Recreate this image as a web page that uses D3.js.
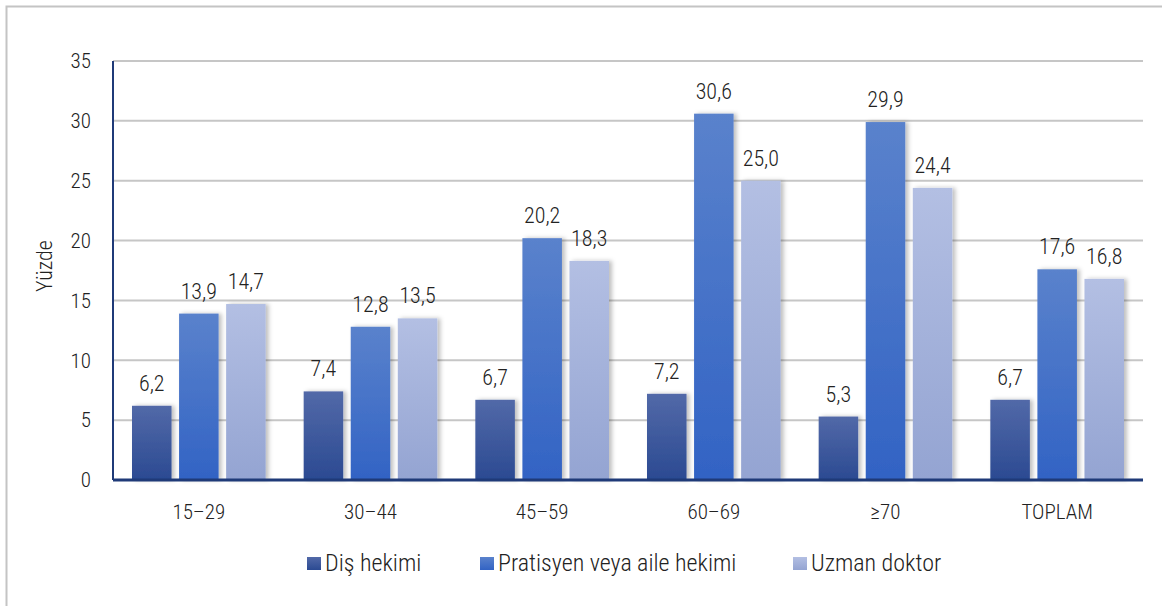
<!DOCTYPE html>
<html>
<head>
<meta charset="utf-8">
<script src="https://cdn.jsdelivr.net/npm/d3@7"></script>
<style>
  body { margin: 0; background: #fff; }
  svg text { font-family: "Roboto Condensed", "DejaVu Sans", sans-serif; font-stretch: condensed; font-weight: 300; fill: #222; }
</style>
</head>
<body>
<svg id="chart" width="1162" height="606"></svg>
<script>
var categories = ["15-29", "30-44", "45-59", "60-69", "\u226570", "TOPLAM"];
var seriesNames = ["Diş hekimi", "Pratisyen veya aile hekimi", "Uzman doktor"];
var disHekimi = [6.2, 7.4, 6.7, 7.2, 5.3, 6.7];
var pratisyen = [13.9, 12.8, 20.2, 30.6, 29.9, 17.6];
var uzman = [14.7, 13.5, 18.3, 25.0, 24.4, 16.8];
var yTicks = [0, 5, 10, 15, 20, 25, 30, 35];

var series = [disHekimi, pratisyen, uzman];
var gradColors = [["#5269a8", "#2b4a92"], ["#5a82cc", "#3263c4"], ["#b3bfe3", "#94a4d2"]];

var svg = d3.select("#chart");
var margin = { left: 113, right: 19, top: 61, bottom: 126 };
var width = 1162 - margin.left - margin.right;
var height = 606 - margin.top - margin.bottom;

// outer frame
svg.append("rect")
    .attr("x", 6.5).attr("y", 6.5)
    .attr("width", 1162).attr("height", 620)
    .attr("fill", "none").attr("stroke", "#c4c4c4").attr("stroke-width", 2);

var defs = svg.append("defs");
gradColors.forEach(function (c, i) {
    var g = defs.append("linearGradient").attr("id", "grad" + i)
        .attr("x1", 0).attr("y1", 0).attr("x2", 0).attr("y2", 1);
    g.append("stop").attr("offset", "0%").attr("stop-color", c[0]);
    g.append("stop").attr("offset", "100%").attr("stop-color", c[1]);
});
var f = defs.append("filter").attr("id", "shadow")
    .attr("x", "-20%").attr("y", "-10%").attr("width", "150%").attr("height", "120%");
f.append("feDropShadow").attr("dx", 3).attr("dy", 0).attr("stdDeviation", 2)
    .attr("flood-color", "#000").attr("flood-opacity", 0.25);

var g = svg.append("g").attr("transform", "translate(" + margin.left + "," + margin.top + ")");

var x0 = d3.scaleBand().domain(categories).range([0, width]).paddingInner(0).paddingOuter(0);
var x1 = d3.scaleBand().domain([0, 1, 2]).range([19, x0.bandwidth() - 19]).paddingInner(0.16);
var y = d3.scaleLinear().domain([0, 35]).range([height, 0]);

// gridlines
g.selectAll(".grid").data(yTicks.slice(1)).enter().append("line")
    .attr("x1", 0).attr("x2", width)
    .attr("y1", function (d) { return y(d); }).attr("y2", function (d) { return y(d); })
    .attr("stroke", "#c6c6c6").attr("stroke-width", 2);

// y axis labels
var yAxis = d3.axisLeft(y).tickValues(yTicks).tickSize(0).tickPadding(22);
var ya = g.append("g").call(yAxis);
ya.select(".domain").remove();
ya.selectAll("text").attr("font-size", 21).style("font-family", null);

g.append("text")
    .attr("transform", "translate(-61," + (266 - margin.top) + ") rotate(-90)")
    .attr("text-anchor", "middle").attr("font-size", 22)
    .text("Yüzde");

// bars
var groups = g.selectAll(".grp").data(categories).enter().append("g")
    .attr("transform", function (d) { return "translate(" + x0(d) + ",0)"; });

groups.each(function (cat, ci) {
    var sel = d3.select(this);
    series.forEach(function (s, si) {
        sel.append("rect")
            .attr("x", x1(si)).attr("width", x1.bandwidth())
            .attr("y", y(s[ci])).attr("height", height - y(s[ci]))
            .attr("fill", "url(#grad" + si + ")")
            .attr("filter", "url(#shadow)");
        sel.append("text")
            .attr("x", x1(si) + x1.bandwidth() / 2)
            .attr("y", y(s[ci]) - 15)
            .attr("text-anchor", "middle").attr("font-size", 22)
            .text(d3.format(".1f")(s[ci]).replace(".", ","));
    });
});

// axes lines
g.append("line").attr("x1", 0).attr("x2", 0).attr("y1", 0).attr("y2", height)
    .attr("stroke", "#1f3a78").attr("stroke-width", 2);
g.append("line").attr("x1", 0).attr("x2", width).attr("y1", height).attr("y2", height)
    .attr("stroke", "#1f3a78").attr("stroke-width", 3);

// x axis labels
var xAxis = d3.axisBottom(x0).tickSize(0).tickPadding(24)
    .tickFormat(function (d) { return d.replace("-", "\u2013"); });
var xa = g.append("g").attr("transform", "translate(0," + height + ")").call(xAxis);
xa.select(".domain").remove();
xa.selectAll("text").attr("font-size", 21).style("font-family", null);

// legend
var legendX = [307, 480, 793];
var legend = svg.append("g");
seriesNames.forEach(function (name, i) {
    var lg = legend.append("g").attr("transform", "translate(" + legendX[i] + ",557)");
    lg.append("rect").attr("width", 14).attr("height", 13).attr("fill", "url(#grad" + i + ")");
    lg.append("text").attr("x", 18).attr("y", 14).attr("font-size", 24).text(name);
});
</script>
</body>
</html>
